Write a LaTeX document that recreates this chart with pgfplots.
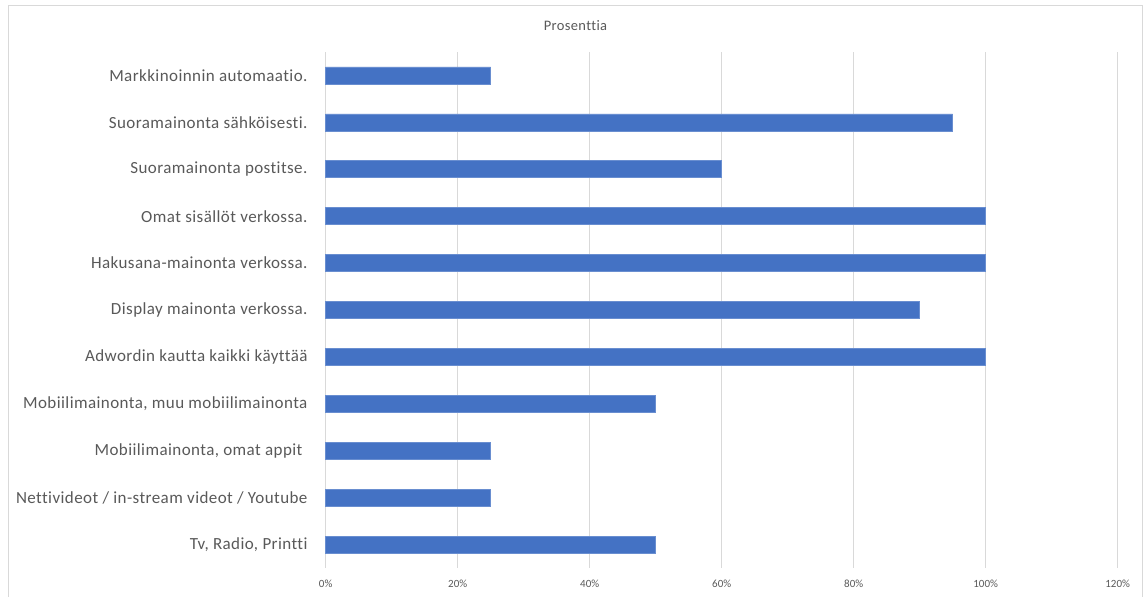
\documentclass[border=0pt]{standalone}
\usepackage{pgfplots}
\pgfplotsset{compat=1.18}
\usepackage{fontspec}
\setmainfont{Carlito}[Ligatures=NoCommon]
\newfontfamily\labfont{Carlito}[Ligatures=NoCommon, LetterSpace=2.5]
\definecolor{barblue}{HTML}{4472C4}
\definecolor{gridgray}{HTML}{D9D9D9}
\definecolor{txtgray}{HTML}{595959}
\begin{document}
\begin{tikzpicture}[x=1pt,y=1pt]
\useasboundingbox (0,0) rectangle (1146,597);
\draw[gridgray, line width=1pt] (8.5,-5) rectangle (1142.7,591);
\begin{axis}[
  at={(325.7pt,29pt)}, anchor=south west,
  scale only axis, width=792pt, height=516pt,
  xbar, bar width=17pt,
  xmin=0, xmax=120, ymin=-0.5, ymax=10.5,
  xtick={0,20,40,60,80,100,120},
  xticklabels={0\%,20\%,40\%,60\%,80\%,100\%,120\%},
  ytick={0,1,2,3,4,5,6,7,8,9,10},
  yticklabels={{Tv, Radio, Printti},{Nettivideot / in-stream videot / Youtube},{Mobiilimainonta, omat appit\hspace*{5pt}},{Mobiilimainonta, muu mobiilimainonta},{Adwordin kautta kaikki käyttää},{Display mainonta verkossa.},{Hakusana-mainonta verkossa.},{Omat sisällöt verkossa.},{Suoramainonta postitse.},{Suoramainonta sähköisesti.},{Markkinoinnin automaatio.}},
  major tick length=0pt,
  axis line style={draw=none},
  xmajorgrids, major grid style={gridgray, line width=1pt},
  xticklabel style={font=\fontsize{11}{13}\selectfont, text=txtgray, inner sep=0pt, yshift=-12pt},
  yticklabel style={font=\labfont\fontsize{17}{19}\selectfont, text=txtgray, inner sep=0pt, xshift=-18pt},
  clip=false,
]
\addplot[fill=barblue, draw=barblue!80!white, line width=0.6pt] coordinates {
(50,0) (25,1) (25,2) (50,3) (100,4) (90,5) (100,6) (100,7) (60,8) (95,9) (25,10)};
\end{axis}
\node[text=txtgray, font=\labfont\fontsize{14.5}{16}\selectfont] at (575.5,571) {Prosenttia};
\end{tikzpicture}
\end{document}
